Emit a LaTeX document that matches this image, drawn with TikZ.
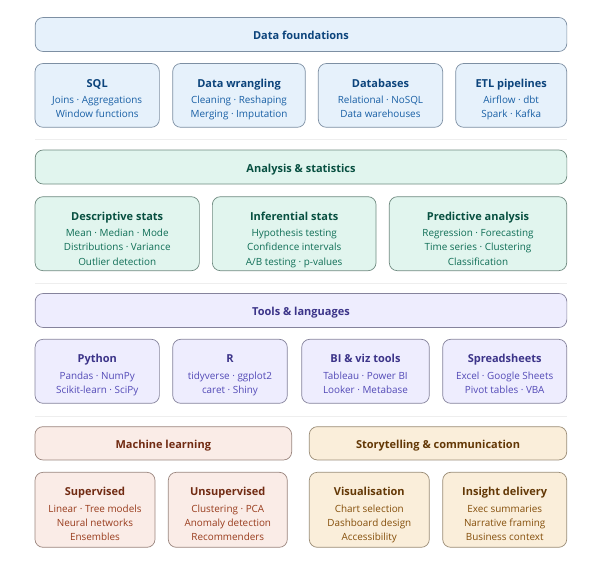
\documentclass[tikz,border=0pt]{standalone}
\usepackage{fontspec}
\setmainfont{Open Sans}
\usetikzlibrary{positioning}

\definecolor{founFill}{HTML}{E6F1FB}
\definecolor{founLine}{HTML}{7D8FA3}
\definecolor{founText}{HTML}{0C447C}
\definecolor{founSub}{HTML}{185FA5}
\definecolor{anaFill}{HTML}{E1F5EE}
\definecolor{anaLine}{HTML}{6F8A80}
\definecolor{anaText}{HTML}{085041}
\definecolor{anaSub}{HTML}{0F6E56}
\definecolor{toolFill}{HTML}{EEEDFE}
\definecolor{toolLine}{HTML}{85839C}
\definecolor{toolText}{HTML}{3C3489}
\definecolor{toolSub}{HTML}{534AB7}
\definecolor{mlFill}{HTML}{FAECE7}
\definecolor{mlLine}{HTML}{9A857E}
\definecolor{mlText}{HTML}{712B13}
\definecolor{mlSub}{HTML}{993C1D}
\definecolor{storyFill}{HTML}{FAEEDA}
\definecolor{storyLine}{HTML}{9A8C76}
\definecolor{storyText}{HTML}{633806}
\definecolor{storySub}{HTML}{854F0B}
\definecolor{sepline}{HTML}{EEEEEE}

\newcommand{\ttl}{\color{ttl}\fontsize{11}{14}\selectfont\bfseries\rule{0pt}{10pt}}

\tikzset{
    head/.style={draw=#1Line, fill=#1Fill, text=#1Text, line width=0.7pt,
        rounded corners=8pt, minimum height=34pt, inner sep=0pt,
        text height=12pt, text depth=1.5pt,
        font=\fontsize{11}{14}\selectfont\bfseries},
    card/.style={draw=#1Line, fill=#1Fill, line width=0.7pt,
        rounded corners=8pt, inner sep=0pt},
    cardtxt/.style={text=#1Sub, align=center, inner sep=0pt,
        font=\fontsize{9.9}{14.4}\selectfont,
        execute at begin node={\colorlet{ttl}{#1Text}}},
    sep/.style={draw=sepline, line width=0.8pt}
}

\begin{document}
\begin{tikzpicture}[x=1pt, y=-1pt]
    \useasboundingbox (0,0) rectangle (602,570);

    % data foundations
    \node[head=foun, minimum width=531.7pt] (foun) at (301,34.5) {Data foundations};
    \node[card=foun, minimum width=124.3pt, minimum height=63.8pt] (sql) at (97.2,95.4) {};
    \node[cardtxt=foun, below=13.7pt of sql.north] (sqltxt)
        {{\ttl SQL}\\[1.8pt]Joins · Aggregations\\Window functions};
    \node[card=foun, minimum width=132.6pt, minimum height=63.8pt] (wrang) at (239,95.4) {};
    \node[cardtxt=foun, below=13.7pt of wrang.north] (wrangtxt)
        {{\ttl Data wrangling}\\[1.8pt]Cleaning · Reshaping\\Merging · Imputation};
    \node[card=foun, minimum width=124.4pt, minimum height=63.8pt] (dbs) at (380.5,95.4) {};
    \node[cardtxt=foun, below=13.7pt of dbs.north] (dbstxt)
        {{\ttl Databases}\\[1.8pt]Relational · NoSQL\\Data warehouses};
    \node[card=foun, minimum width=111pt, minimum height=63.8pt] (etl) at (511.2,95.4) {};
    \node[cardtxt=foun, below=13.7pt of etl.north] (etltxt)
        {{\ttl ETL pipelines}\\[1.8pt]Airflow · dbt\\Spark · Kafka};

    \coordinate (s1a) at (35,139);
    \coordinate (s1b) at (566.7,139);
    \draw[sep] (s1a) -- (s1b);

    % analysis and statistics
    \node[head=ana, minimum width=531.7pt] (ana) at (301,167) {Analysis \& statistics};
    \node[card=ana, minimum width=164.3pt, minimum height=74pt] (desc) at (117.2,233.7) {};
    \node[cardtxt=ana, below=13.7pt of desc.north] (desctxt)
        {{\ttl Descriptive stats}\\[1.8pt]Mean · Median · Mode\\Distributions · Variance\\Outlier detection};
    \node[card=ana, minimum width=163.7pt, minimum height=74pt] (infer) at (294.2,233.7) {};
    \node[cardtxt=ana, below=13.7pt of infer.north] (infertxt)
        {{\ttl Inferential stats}\\[1.8pt]Hypothesis testing\\Confidence intervals\\A/B testing · p-values};
    \node[card=ana, minimum width=177.4pt, minimum height=74pt] (pred) at (478,233.7) {};
    \node[cardtxt=ana, below=13.7pt of pred.north] (predtxt)
        {{\ttl Predictive analysis}\\[1.8pt]Regression · Forecasting\\Time series · Clustering\\Classification};

    \coordinate (s2a) at (35,283);
    \coordinate (s2b) at (566.7,283);
    \draw[sep] (s2a) -- (s2b);

    % tools and languages
    \node[head=tool, minimum width=531.7pt] (tool) at (301,310.5) {Tools \& languages};
    \node[card=tool, minimum width=124.3pt, minimum height=64pt] (py) at (97.2,371.3) {};
    \node[cardtxt=tool, below=13.7pt of py.north] (pytxt)
        {{\ttl Python}\\[1.8pt]Pandas · NumPy\\Scikit-learn · SciPy};
    \node[card=tool, minimum width=114.6pt, minimum height=64pt] (rlang) at (230,371.3) {};
    \node[cardtxt=tool, below=13.7pt of rlang.north] (rlangtxt)
        {{\ttl R}\\[1.8pt]tidyverse · ggplot2\\caret · Shiny};
    \node[card=tool, minimum width=127.6pt, minimum height=64pt] (bi) at (365.5,371.3) {};
    \node[cardtxt=tool, below=13.7pt of bi.north] (bitxt)
        {{\ttl BI \& viz tools}\\[1.8pt]Tableau · Power BI\\Looker · Metabase};
    \node[card=tool, minimum width=124pt, minimum height=64pt] (sheets) at (504.7,371.3) {};
    \node[cardtxt=tool, below=13.7pt of sheets.north] (sheetstxt)
        {{\ttl Spreadsheets}\\[1.8pt]Excel · Google Sheets\\Pivot tables · VBA};

    \coordinate (s3a) at (35,416);
    \coordinate (s3b) at (566.7,416);
    \draw[sep] (s3a) -- (s3b);

    % machine learning / storytelling
    \node[head=ml, minimum width=256.7pt, minimum height=33.3pt] (ml) at (163.3,443.3) {Machine learning};
    \node[head=story, minimum width=257.4pt, minimum height=33.3pt] (story) at (438,443.3) {Storytelling \& communication};
    \node[card=ml, minimum width=120pt, minimum height=75pt] (sup) at (95,509.8) {};
    \node[cardtxt=ml, below=13.7pt of sup.north] (suptxt)
        {{\ttl Supervised}\\[1.8pt]Linear · Tree models\\Neural networks\\Ensembles};
    \node[card=ml, minimum width=119pt, minimum height=75pt] (unsup) at (227.8,509.8) {};
    \node[cardtxt=ml, below=13.7pt of unsup.north] (unsuptxt)
        {{\ttl Unsupervised}\\[1.8pt]Clustering · PCA\\Anomaly detection\\Recommenders};
    \node[card=story, minimum width=120pt, minimum height=75pt] (vis) at (369.3,509.8) {};
    \node[cardtxt=story, below=13.7pt of vis.north] (vistxt)
        {{\ttl Visualisation}\\[1.8pt]Chart selection\\Dashboard design\\Accessibility};
    \node[card=story, minimum width=124pt, minimum height=75pt] (insight) at (504.7,509.8) {};
    \node[cardtxt=story, below=13.7pt of insight.north] (insighttxt)
        {{\ttl Insight delivery}\\[1.8pt]Exec summaries\\Narrative framing\\Business context};
\end{tikzpicture}
\end{document}
